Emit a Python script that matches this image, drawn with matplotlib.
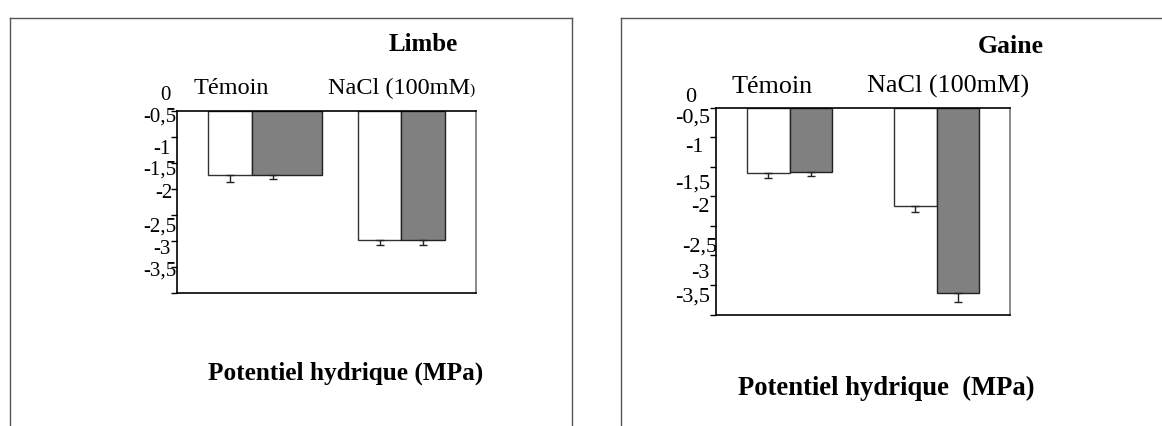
import matplotlib
matplotlib.use("Agg")
import matplotlib.pyplot as plt
from matplotlib.lines import Line2D

plt.rcParams['font.family'] = ['Liberation Serif', 'DejaVu Serif']

# ---------------- data ----------------
groups = ["Témoin", "NaCl (100mM)"]
tick_values = [0, -0.5, -1, -1.5, -2, -2.5, -3, -3.5]
tick_labels = ["0", "-0,5", "-1", "-1,5", "-2", "-2,5", "-3", "-3,5"]

limbe_white = [-1.23, -2.49]
limbe_white_err = [0.15, 0.09]
limbe_gray = [-1.23, -2.49]
limbe_gray_err = [0.09, 0.09]

gaine_white = [-1.11, -1.66]
gaine_white_err = [0.075, 0.10]
gaine_gray = [-1.09, -3.14]
gaine_gray_err = [0.07, 0.15]

W, H = 1162, 426
fig = plt.figure(figsize=(W / 100, H / 100), dpi=100)


def fx(x):
    return x / W


def fy(y):
    return 1 - y / H


def make_axes(x0, x1, y0, y1):
    return fig.add_axes([fx(x0), fy(y1), fx(x1) - fx(x0), (y1 - y0) / H])


def draw_panel(ax, white, white_err, gray, gray_err, gray_widths):
    bw = 0.29
    xs = list(range(len(groups)))
    ax.bar([x - bw for x in xs], white, width=bw, align='edge', color='white',
           edgecolor='#333333', linewidth=1.0, zorder=2)
    ax.bar(xs, gray, width=[bw * g for g in gray_widths], align='edge', color='#808080',
           edgecolor='#222222', linewidth=1.0, zorder=2)
    ax.errorbar([x - bw / 2 for x in xs], white, yerr=[white_err, [0] * len(xs)], fmt='none',
                ecolor='#222222', elinewidth=1.0, capsize=3, capthick=1.0, zorder=3)
    ax.errorbar([x + bw / 2 for x in xs], gray, yerr=[gray_err, [0] * len(xs)], fmt='none',
                ecolor='#222222', elinewidth=1.0, capsize=3, capthick=1.0, zorder=3)
    ax.set_xlim(-0.5, 1.5)
    ax.set_ylim(-3.5, 0)
    ax.set_xticks([])
    ax.set_yticks(tick_values)
    ax.set_yticklabels([])
    ax.tick_params(axis='y', direction='out', length=4, width=1, color='black')
    for side in ['left', 'top', 'bottom']:
        ax.spines[side].set_color('black')
        ax.spines[side].set_linewidth(1.2)
    ax.spines['right'].set_color('#777777')
    ax.spines['right'].set_linewidth(1.2)


# ---------------- left panel: Limbe ----------------
axL = make_axes(177, 476, 110.7, 292.5)
draw_panel(axL, limbe_white, limbe_white_err, limbe_gray, limbe_gray_err, [1.63, 1.0])

left_label_pos = [(165, 96, 'center'), (176, 117, 'right'), (170, 150, 'right'), (176, 170, 'right'),
                  (173, 193, 'right'), (176, 227, 'right'), (171, 249, 'right'), (176, 271, 'right')]
for lab, (x, y, ha) in zip(tick_labels, left_label_pos):
    fig.text(fx(x), fy(y), lab, ha=ha, va='center', fontsize=15)

fig.text(fx(389), fy(51), "Limbe", ha='left', va='baseline', fontsize=18, fontweight='bold')
fig.text(fx(194), fy(94), groups[0], ha='left', va='baseline', fontsize=17.5)
fig.text(fx(328), fy(94), groups[1][:-1], ha='left', va='baseline', fontsize=17.5)
fig.text(fx(469), fy(94), groups[1][-1], ha='left', va='baseline', fontsize=11)
fig.text(fx(208), fy(380), "Potentiel hydrique (MPa)", ha='left', va='baseline',
         fontsize=18.2, fontweight='bold')

# ---------------- right panel: Gaine ----------------
axR = make_axes(716, 1010, 107.7, 314.5)
draw_panel(axR, gaine_white, gaine_white_err, gaine_gray, gaine_gray_err, [1.0, 1.0])

right_label_pos = [(691, 97, 'center'), (710, 118, 'right'), (704, 147, 'right'), (710, 184, 'right'),
                   (710, 207, 'right'), (717, 247, 'right'), (710, 273, 'right'), (710, 297, 'right')]
for lab, (x, y, ha) in zip(tick_labels, right_label_pos):
    fig.text(fx(x), fy(y), lab, ha=ha, va='center', fontsize=16)

fig.text(fx(978), fy(53), "Gaine", ha='left', va='baseline', fontsize=18.5, fontweight='bold')
fig.text(fx(732), fy(93), groups[0], ha='left', va='baseline', fontsize=18.8)
fig.text(fx(867), fy(93), groups[1], ha='left', va='baseline', fontsize=18.8)
fig.text(fx(738), fy(395), "Potentiel hydrique  (MPa)", ha='left', va='baseline',
         fontsize=19.2, fontweight='bold')

# ---------------- frames ----------------
frame_kw = dict(color='#555555', linewidth=1.0)
fig.add_artist(Line2D([fx(9.5), fx(9.5)], [fy(17.5), 0], transform=fig.transFigure, **frame_kw))
fig.add_artist(Line2D([fx(9.5), fx(571.5)], [fy(17.5), fy(17.5)], transform=fig.transFigure, **frame_kw))
fig.add_artist(Line2D([fx(571.5), fx(571.5)], [fy(17.5), 0], transform=fig.transFigure, **frame_kw))
fig.add_artist(Line2D([fx(621), fx(621)], [fy(17.5), 0], transform=fig.transFigure, **frame_kw))
fig.add_artist(Line2D([fx(621), 1], [fy(17.5), fy(17.5)], transform=fig.transFigure, **frame_kw))

fig.savefig("out.png", dpi=100)
